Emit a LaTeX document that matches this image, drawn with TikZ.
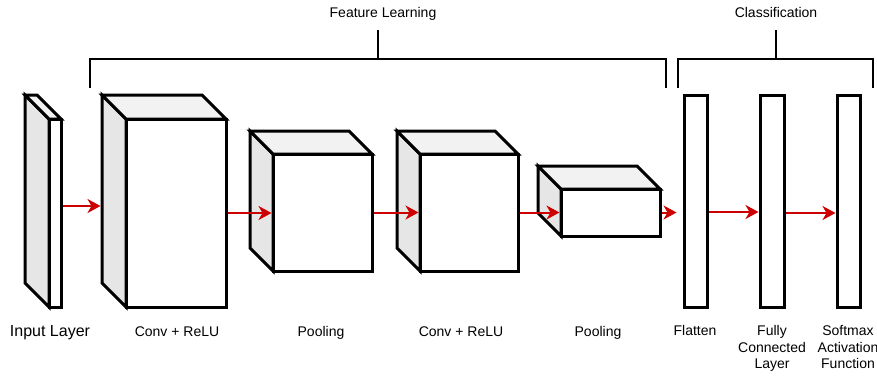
\documentclass[tikz,border=0pt]{standalone}
\usepackage{fontspec}
\setmainfont{Liberation Sans}
\usetikzlibrary{arrows.meta}

\definecolor{sidegray}{HTML}{E6E6E6}
\definecolor{topgray}{HTML}{F2F2F2}
\definecolor{flowred}{HTML}{CC0000}

\tikzset{
  face/.style={draw=black, line width=3pt, fill=white, inner sep=0pt, outer sep=1.5pt},
  sideface/.style={draw=black, line width=3pt, fill=sidegray},
  topface/.style={draw=black, line width=3pt, fill=topgray},
  flow/.style={draw=flowred, line width=2pt,
    -{Stealth[length=13pt, width=14pt, inset=4pt]}},
  brace/.style={draw=black, line width=2pt},
  lbl/.style={anchor=base, inner sep=0pt, align=center,
    font=\fontsize{14}{16.5}\selectfont},
  toplbl/.style={anchor=base, inner sep=0pt, font=\fontsize{14}{16.5}\selectfont},
}

% \layerbox{name}{x1}{y1}{x2}{y2}{depth}: front face from (x1,y1) to (x2,y2),
% with a shaded left side and top receding by depth
\newcommand{\layerbox}[6]{%
  \node[face, minimum width={(#4-#2)*1pt}, minimum height={(#5-#3)*1pt}]
    (#1) at ({(#2+#4)/2},{(#3+#5)/2}) {};
  \draw[sideface] (#2,#3) -- ++(-#6,-#6) -- ++(0,#5-#3) -- (#2,#5) -- cycle;
  \draw[topface] (#2,#3) -- ++(-#6,-#6) -- ++(#4-#2,0) -- (#4,#3) -- cycle;
}
% \flatbox{name}{x1}{y1}{x2}{y2}: a plain vertical bar
\newcommand{\flatbox}[5]{%
  \node[face, minimum width={(#4-#2)*1pt}, minimum height={(#5-#3)*1pt}]
    (#1) at ({(#2+#4)/2},{(#3+#5)/2}) {};
}

\begin{document}
\begin{tikzpicture}[x=1pt, y=-1pt]
  \useasboundingbox (0,0) rectangle (877,375);

  % layers
  \layerbox{inp}{49}{119}{61}{307}{24}
  \layerbox{convA}{126}{119}{226}{307}{24}
  \layerbox{poolA}{273}{154}{372}{271}{23}
  \layerbox{convB}{420}{154}{518}{271}{23}
  \layerbox{poolB}{561}{189}{660}{236}{23}
  \flatbox{flat}{684}{95}{707}{307}
  \flatbox{fc}{760}{95}{784}{307}
  \flatbox{soft}{837}{95}{860}{307}

  % data flow
  \draw[flow] ([yshift=7pt]inp.east) -- ([xshift=-24pt,yshift=7pt]convA.west);
  \draw[flow] (convA.east) -- (convA.east -| poolA.west);
  \draw[flow] (poolA.east) -- (convB.west);
  \draw[flow] (convB.east) -- (convB.east -| poolB.west);
  \draw[flow, shorten >=6pt] (poolB.east) -- (poolB.east -| flat.west);
  \draw[flow] ([yshift=-11pt]flat.east) -- ([yshift=-11pt]fc.west);
  \draw[flow] ([yshift=-12pt]fc.east) -- ([yshift=-12pt]soft.west);

  % group brackets
  \coordinate (flL) at (90,88);
  \coordinate (flR) at (666,88);
  \coordinate (flS) at (378,30);
  \draw[brace] (flL) -- (90,59) -- (666,59) -- (flR);
  \draw[brace] (flS) -- (378,59);
  \coordinate (clL) at (678,88);
  \coordinate (clR) at (873,88);
  \coordinate (clS) at (776,30);
  \draw[brace] (clL) -- (678,59) -- (873,59) -- (clR);
  \draw[brace] (clS) -- (776,59);
  \node[toplbl] (tFL) at (383,17.3) {Feature Learning};
  \node[toplbl] (tCL) at (776,17.3) {Classification};

  % layer captions (base anchor sits on the last line)
  \node[lbl, font=\fontsize{16}{19}\selectfont] (lInp) at (50,336.5) {Input Layer};
  \node[lbl] (lConvA) at (177,336) {Conv + ReLU};
  \node[lbl] (lPoolA) at (321,336) {Pooling};
  \node[lbl] (lConvB) at (461,336) {Conv + ReLU};
  \node[lbl] (lPoolB) at (598,336) {Pooling};
  \node[lbl] (lFlat) at (695,335.5) {Flatten};
  \node[lbl] (lFc) at (772,368.7) {Fully\\Connected\\Layer};
  \node[lbl] (lSoft) at (848,368.7) {Softmax\\Activation\\Function};
\end{tikzpicture}
\end{document}
